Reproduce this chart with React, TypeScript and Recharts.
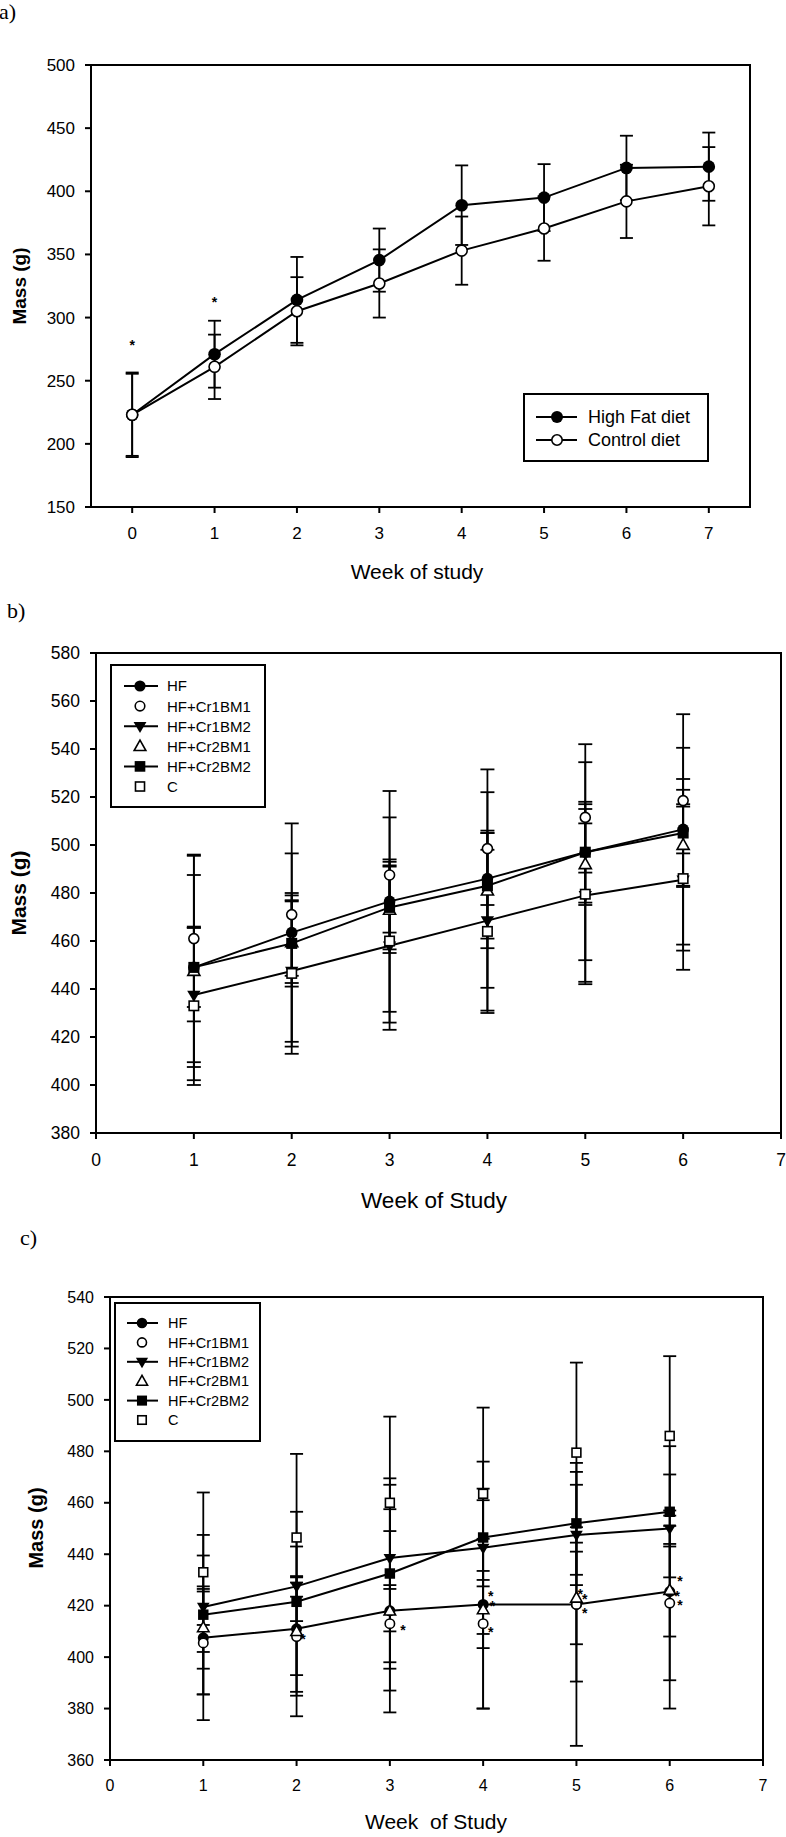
import React from "react";
import {
  ComposedChart,
  Line,
  Scatter,
  XAxis,
  YAxis,
  ErrorBar,
  ReferenceArea,
} from "recharts";

const FONT = "Arial, 'Liberation Sans', Helvetica, sans-serif";
const SERIF = "'Times New Roman', 'Liberation Serif', serif";

// ---- panel a: body mass, high fat vs control ----
const weeksA = [0, 1, 2, 3, 4, 5, 6, 7];
const highFatMass = [223, 271, 314, 345.5, 389, 395, 418.5, 419.5];
const highFatSd = [33.5, 26.5, 34, 25, 31.5, 26.5, 25.5, 27];
const controlMass = [223, 261, 305, 327, 353, 370.5, 392, 404];
const controlSd = [32.5, 25.5, 27, 27, 27, 25.5, 29, 31];
const yTicksA = [150, 200, 250, 300, 350, 400, 450, 500];
const xTicksA = [0, 1, 2, 3, 4, 5, 6, 7];
const starsA = [
  { week: 0, mass: 280 },
  { week: 1, mass: 314 },
];

// ---- panel b ----
const weeksB = [1, 2, 3, 4, 5, 6];
const hfB = [449, 463.5, 476.5, 486, 497, 506.5];
const hfSdB = [16.5, 45.5, 46, 45.5, 45, 48];
const cr1bm1B = [461, 471, 487.5, 498.5, 511.5, 518.5];
const cr1bm1SdB = [34.5, 25.5, 24, 23.5, 23, 22];
const cr1bm2B = [437.5, 447.5, 458, 468.5, 479, 485.5];
const cr1bm2SdB = [28, 31.5, 35, 37.5, 36, 37.5];
const cr2bm1B = [447.5, 459.5, 473, 481, 492, 500];
const cr2bm1SdB = [40, 17, 18, 24, 17, 17];
const cr2bm2B = [449, 459, 474, 483, 497, 505];
const cr2bm2SdB = [47, 18, 17.5, 22, 21, 22.5];
const cB = [433, 446.5, 460, 464, 479.5, 486];
const cSdB = [33, 33.5, 34, 34, 37.5, 30];
const yTicksB = [380, 400, 420, 440, 460, 480, 500, 520, 540, 560, 580];
const xTicksBC = [0, 1, 2, 3, 4, 5, 6, 7];

// ---- panel c ----
const weeksC = [1, 2, 3, 4, 5, 6];
const hfC = [407.5, 411, 418, 420.5, 420.5, 425.5];
const hfSdC = [32, 18, 39.5, 40.5, 30, 45.5];
const cr1bm1C = [405.5, 408, 413, 413, 420.5, 421];
const cr1bm1SdC = [20, 23, 15, 33, 55, 30];
const cr1bm2C = [419.5, 427.5, 438.5, 442.5, 447.5, 450];
const cr1bm2SdC = [7, 4, 28.5, 33.5, 19.5, 7];
const cr2bm1C = [411.5, 410, 418, 418.5, 423, 426];
const cr2bm1SdC = [16, 33, 31, 15, 18, 18];
const cr2bm2C = [416.5, 421.5, 432.5, 446.5, 452, 456.5];
const cr2bm2SdC = [31, 35, 37, 19, 20, 25.5];
const cC = [433, 446.5, 460, 463.5, 479.5, 486];
const cSdC = [31, 32.5, 33.5, 33.5, 35, 31];
const yTicksC = [360, 380, 400, 420, 440, 460, 480, 500, 520, 540];
const starsC = [
  { week: 2.07, mass: 408 },
  { week: 3.14, mass: 411.5 },
  { week: 4.08, mass: 424.5 },
  { week: 4.1, mass: 420.5 },
  { week: 4.08, mass: 410.5 },
  { week: 5.04, mass: 425.5 },
  { week: 5.09, mass: 423.5 },
  { week: 5.09, mass: 418 },
  { week: 6.11, mass: 430.5 },
  { week: 6.08, mass: 424.5 },
  { week: 6.11, mass: 421 },
];

type Kind = "dot" | "ring" | "down" | "up" | "box" | "boxOpen";

const groups: { key: string; name: string; kind: Kind; line: boolean }[] = [
  { key: "hf", name: "HF", kind: "dot", line: true },
  { key: "cr1bm1", name: "HF+Cr1BM1", kind: "ring", line: false },
  { key: "cr1bm2", name: "HF+Cr1BM2", kind: "down", line: true },
  { key: "cr2bm1", name: "HF+Cr2BM1", kind: "up", line: false },
  { key: "cr2bm2", name: "HF+Cr2BM2", kind: "box", line: true },
  { key: "c", name: "C", kind: "boxOpen", line: false },
];

const dietSeries: { key: string; name: string; kind: Kind; line: boolean }[] = [
  { key: "hf", name: "High Fat diet", kind: "dot", line: true },
  { key: "ctl", name: "Control diet", kind: "ring", line: true },
];

function buildRows(
  weeks: number[],
  means: Record<string, number[]>,
  sds: Record<string, number[]>
) {
  return weeks.map((w, i) => {
    const row: Record<string, number> = { week: w };
    Object.keys(means).forEach((k) => {
      row[k] = means[k][i];
      row[k + "Sd"] = sds[k][i];
    });
    return row;
  });
}

const rowsA = buildRows(
  weeksA,
  { hf: highFatMass, ctl: controlMass },
  { hf: highFatSd, ctl: controlSd }
);
const rowsB = buildRows(
  weeksB,
  { hf: hfB, cr1bm1: cr1bm1B, cr1bm2: cr1bm2B, cr2bm1: cr2bm1B, cr2bm2: cr2bm2B, c: cB },
  { hf: hfSdB, cr1bm1: cr1bm1SdB, cr1bm2: cr1bm2SdB, cr2bm1: cr2bm1SdB, cr2bm2: cr2bm2SdB, c: cSdB }
);
const rowsC = buildRows(
  weeksC,
  { hf: hfC, cr1bm1: cr1bm1C, cr1bm2: cr1bm2C, cr2bm1: cr2bm1C, cr2bm2: cr2bm2C, c: cC },
  { hf: hfSdC, cr1bm1: cr1bm1SdC, cr1bm2: cr1bm2SdC, cr2bm1: cr2bm1SdC, cr2bm2: cr2bm2SdC, c: cSdC }
);

function Marker({ kind, x, y, s }: { kind: Kind; x: number; y: number; s: number }) {
  const sw = 1.6;
  if (kind === "dot") return <circle cx={x} cy={y} r={s} fill="#000" />;
  if (kind === "ring")
    return <circle cx={x} cy={y} r={s - 0.8} fill="#fff" stroke="#000" strokeWidth={sw} />;
  if (kind === "down") {
    const h = s;
    return (
      <polygon
        points={`${x - h * 1.15},${y - h * 0.75} ${x + h * 1.15},${y - h * 0.75} ${x},${y + h * 1.2}`}
        fill="#000"
      />
    );
  }
  if (kind === "up") {
    const h = s * 0.95;
    return (
      <polygon
        points={`${x - h * 1.1},${y + h * 0.8} ${x + h * 1.1},${y + h * 0.8} ${x},${y - h * 1.15}`}
        fill="#fff"
        stroke="#000"
        strokeWidth={sw}
      />
    );
  }
  const q = s * 0.95;
  if (kind === "box") return <rect x={x - q} y={y - q} width={2 * q} height={2 * q} fill="#000" />;
  return (
    <rect
      x={x - q + 0.8}
      y={y - q + 0.8}
      width={2 * q - 1.6}
      height={2 * q - 1.6}
      fill="#fff"
      stroke="#000"
      strokeWidth={sw}
    />
  );
}

const markerDot = (kind: Kind, s: number) => (p: any) => {
  if (p.cx == null || p.cy == null) return <g key={`e-${p.index}`} />;
  return <Marker key={`m-${p.index}`} kind={kind} x={p.cx} y={p.cy} s={s} />;
};

const starShape = (p: any) => (
  <text
    x={p.cx}
    y={p.cy + 7}
    textAnchor="middle"
    fontSize={14}
    fontWeight="bold"
    fontFamily={FONT}
    fill="#000"
  >
    *
  </text>
);

type PanelProps = {
  rows: Record<string, number>[];
  series: { key: string; name: string; kind: Kind; line: boolean }[];
  height: number;
  margin: { top: number; right: number; bottom: number; left: number };
  xDomain: [number, number];
  xTicks: number[];
  yDomain: [number, number];
  yTicks: number[];
  fontSize: number;
  mark: number;
  cap: number;
  xMargin: number;
  stars?: { week: number; mass: number }[];
};

function Panel(p: PanelProps) {
  const tick = { fontSize: p.fontSize, fill: "#000", fontFamily: FONT };
  const axisLine = { stroke: "#000", strokeWidth: 2 };
  return (
    <ComposedChart width={786} height={p.height} data={p.rows} margin={p.margin}>
      <ReferenceArea
        x1={p.xDomain[0]}
        x2={p.xDomain[1]}
        y1={p.yDomain[0]}
        y2={p.yDomain[1]}
        fill="none"
        fillOpacity={0}
        stroke="#000"
        strokeWidth={2}
      />
      <XAxis
        dataKey="week"
        type="number"
        domain={p.xDomain}
        ticks={p.xTicks}
        interval={0}
        allowDataOverflow
        height={40}
        tick={tick}
        tickSize={6}
        tickMargin={p.xMargin}
        axisLine={axisLine}
        tickLine={axisLine}
      />
      <YAxis
        type="number"
        domain={p.yDomain}
        ticks={p.yTicks}
        interval={0}
        allowDataOverflow
        width={60}
        tick={tick}
        tickSize={6}
        tickMargin={10}
        axisLine={axisLine}
        tickLine={axisLine}
      />
      {p.series.map((s) => (
        <Line
          key={s.key}
          dataKey={s.key}
          name={s.name}
          stroke={s.line ? "#000" : "none"}
          strokeWidth={2}
          dot={markerDot(s.kind, p.mark)}
          activeDot={false}
          isAnimationActive={false}
        >
          <ErrorBar
            dataKey={s.key + "Sd"}
            direction="y"
            width={p.cap}
            stroke="#000"
            strokeWidth={1.8}
          />
        </Line>
      ))}
      {p.stars && (
        <Scatter data={p.stars} dataKey="mass" shape={starShape} isAnimationActive={false} />
      )}
    </ComposedChart>
  );
}

function LegendBox(props: {
  left: number;
  top: number;
  width: number;
  height: number;
  items: { name: string; kind: Kind; line: boolean }[];
  firstY: number;
  gap: number;
  lineX1: number;
  lineX2: number;
  markX: number;
  textX: number;
  fontSize: number;
  s: number;
}) {
  const p = props;
  return (
    <svg style={{ position: "absolute", left: p.left, top: p.top }} width={p.width} height={p.height}>
      <rect x={1} y={1} width={p.width - 2} height={p.height - 2} fill="#fff" stroke="#000" strokeWidth={2} />
      {p.items.map((it, i) => {
        const y = p.firstY + i * p.gap;
        return (
          <g key={it.name}>
            {it.line && <line x1={p.lineX1} x2={p.lineX2} y1={y} y2={y} stroke="#000" strokeWidth={2} />}
            <Marker kind={it.kind} x={p.markX} y={y} s={p.s} />
            <text x={p.textX} y={y + p.fontSize * 0.36} fontSize={p.fontSize} fontFamily={FONT} fill="#000">
              {it.name}
            </text>
          </g>
        );
      })}
    </svg>
  );
}

function Label(props: {
  x: number;
  y: number;
  size: number;
  text: string;
  bold?: boolean;
  rotate?: boolean;
  serif?: boolean;
  left?: boolean;
}) {
  const t = props.left
    ? "translate(0,-50%)"
    : `translate(-50%,-50%)${props.rotate ? " rotate(-90deg)" : ""}`;
  return (
    <div
      style={{
        position: "absolute",
        left: props.x,
        top: props.y,
        transform: t,
        fontSize: props.size,
        fontWeight: props.bold ? "bold" : "normal",
        fontFamily: props.serif ? SERIF : FONT,
        whiteSpace: "pre",
        lineHeight: 1.15,
        color: "#000",
      }}
    >
      {props.text}
    </div>
  );
}

export default function App() {
  return (
    <div
      style={{
        position: "absolute",
        left: 0,
        top: 0,
        width: 786,
        height: 1837,
        background: "#fff",
        overflow: "hidden",
      }}
    >
      <div style={{ position: "absolute", left: 0, top: 0 }}>
        <Panel
          rows={rowsA}
          series={dietSeries}
          height={600}
          margin={{ top: 65, right: 36, bottom: 53, left: 31 }}
          xDomain={[-0.5, 7.5]}
          xTicks={xTicksA}
          yDomain={[150, 500]}
          yTicks={yTicksA}
          fontSize={17}
          mark={6.3}
          cap={6.5}
          xMargin={14}
          stars={starsA}
        />
      </div>
      <div style={{ position: "absolute", left: 0, top: 600 }}>
        <Panel
          rows={rowsB}
          series={groups}
          height={600}
          margin={{ top: 53, right: 5, bottom: 27, left: 36 }}
          xDomain={[0, 7]}
          xTicks={xTicksBC}
          yDomain={[380, 580]}
          yTicks={yTicksB}
          fontSize={17.5}
          mark={5.8}
          cap={7}
          xMargin={15}
        />
      </div>
      <div style={{ position: "absolute", left: 0, top: 1240 }}>
        <Panel
          rows={rowsC}
          series={groups}
          height={597}
          margin={{ top: 57, right: 23, bottom: 37, left: 50 }}
          xDomain={[0, 7]}
          xTicks={xTicksBC}
          yDomain={[360, 540]}
          yTicks={yTicksC}
          fontSize={16}
          mark={5.5}
          cap={6.5}
          xMargin={14}
          stars={starsC}
        />
      </div>

      <LegendBox
        left={523}
        top={393}
        width={186}
        height={69}
        items={dietSeries}
        firstY={24}
        gap={23}
        lineX1={13}
        lineX2={54}
        markX={34}
        textX={65}
        fontSize={18}
        s={6}
      />
      <LegendBox
        left={110}
        top={664}
        width={156}
        height={144}
        items={groups}
        firstY={22}
        gap={20.1}
        lineX1={14}
        lineX2={48}
        markX={30}
        textX={57}
        fontSize={15}
        s={5.6}
      />
      <LegendBox
        left={114}
        top={1302}
        width={147}
        height={140}
        items={groups}
        firstY={21}
        gap={19.4}
        lineX1={13}
        lineX2={44}
        markX={28}
        textX={54}
        fontSize={14.5}
        s={5.3}
      />

      <Label x={-1} y={12} size={22} text="a)" serif left />
      <Label x={7} y={611} size={22} text="b)" serif left />
      <Label x={20} y={1238} size={22} text="c)" serif left />

      <Label x={20} y={286} size={19} text="Mass (g)" bold rotate />
      <Label x={19} y={893} size={21} text="Mass (g)" bold rotate />
      <Label x={36} y={1528} size={20} text="Mass (g)" bold rotate />

      <Label x={417} y={572} size={21} text="Week of study" />
      <Label x={434} y={1201} size={22.5} text="Week of Study" />
      <Label x={436} y={1822} size={21} text="Week  of Study" />
    </div>
  );
}
